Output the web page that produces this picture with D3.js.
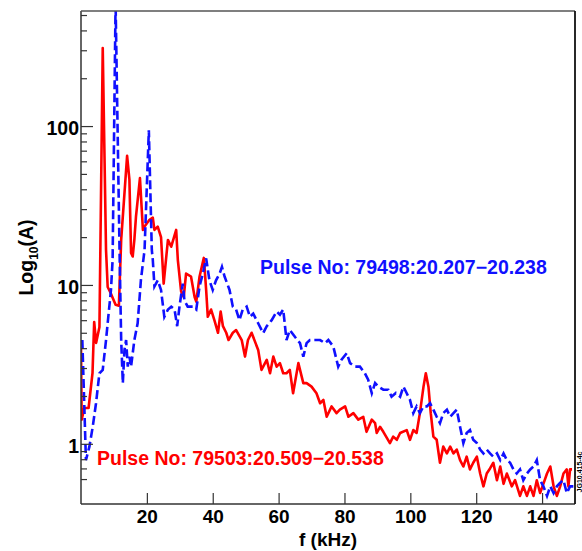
<!DOCTYPE html>
<html>
<head>
<meta charset="utf-8">
<script src="https://cdn.jsdelivr.net/npm/d3@7"></script>
<style>
  html, body { margin: 0; padding: 0; background: #fff; }
  svg { display: block; }
  text { font-family: "Liberation Sans", Arial, Helvetica, sans-serif; font-weight: bold; }
</style>
</head>
<body>
<div id="chart"></div>
<script>
// ---- data ----
const redF = [0,0.2,1.0,2.3,3.5,4.0,4.6,5.6,6.6,7.6,
  8.1,9.0,10.5,11.5,12.2,14.0,14.7,15.2,15.7,16.2,
  16.7,17.9,18.8,19.3,20.8,21.8,22.3,23.3,24.3,25.1,
  25.8,26.4,27.4,28.9,29.4,30.4,31.2,31.9,33.4,34.5,
  35.0,36.0,37.3,38.0,38.5,39.5,40.5,41.6,42.4,43.1,
  44.1,44.8,46.1,47.1,48.8,49.8,50.7,51.8,53.8,54.8,
  56.4,57.4,58.4,59.4,60.4,61.4,62.4,63.4,64.4,66.0,
  67.5,68.5,70.0,71.5,72.6,73.6,74.6,76.1,77.6,78.6,
  80.2,81.2,82.7,84.2,85.7,86.7,88.3,89.3,89.8,90.8,
  91.8,93.8,94.8,95.9,96.9,98.9,99.9,100.9,101.9,102.9,
  104.0,104.7,105.5,106.2,107.0,108.0,109.0,110.0,111.1,112.1,
  113.1,114.1,115.1,116.1,117.1,118.1,119.1,120.2,121.2,122.2,
  123.2,124.2,125.2,126.3,127.3,128.3,129.3,130.8,131.8,133.3,
  134.3,135.4,136.4,137.4,138.4,139.4,140.4,141.5,142.5,143.5,
  144.5,145.5,146.5,147.5,148.0,148.5,149.1];
const redA = [4.0,1.42,1.68,1.68,2.8,5.85,4.32,5.44,310,16.6,
  9.7,8.9,7.5,7.4,19.2,65,46,15.9,15.1,19.2,
  27,47,22.2,23.3,25.7,26.5,22.2,23.3,20,10.2,
  14.4,19.2,17.4,22.2,14.4,9.1,8.4,11.8,11.3,8.4,
  7.85,11.3,14.8,9.3,6.3,7.0,6.0,5.0,6.8,5.5,
  5.0,4.5,5.0,5.2,4.5,3.54,4.5,5.0,3.9,2.92,
  3.38,2.78,3.54,3.06,3.22,2.78,2.78,2.92,2.08,3.22,
  2.41,2.41,2.29,2.08,1.80,1.89,1.48,1.72,1.56,1.64,
  1.72,1.48,1.56,1.42,1.48,1.19,1.42,1.35,1.17,1.28,
  1.19,1.01,1.11,1.06,1.17,1.22,1.06,1.22,1.17,1.56,
  2.29,2.78,2.29,1.56,1.11,1.06,0.76,0.96,0.87,0.96,
  0.87,0.92,0.79,0.72,0.83,0.69,0.76,0.83,0.65,0.54,
  0.65,0.70,0.76,0.59,0.72,0.56,0.65,0.54,0.59,0.47,
  0.54,0.47,0.54,0.47,0.59,0.49,0.56,0.65,0.72,0.54,
  0.47,0.54,0.65,0.69,0.54,0.69,0.69];

const blueF = [0.4,1.5,2.55,3.56,4.56,5.59,6.6,7.6,8.1,9.1,
  9.6,10.5,11.7,12.2,12.7,13.2,13.7,14.2,14.7,15.2,
  16.2,17.2,18.2,19.3,20.6,21.5,21.8,22.3,23.3,24.3,
  25.3,26.4,27.4,28.4,29.2,29.9,30.9,31.4,32.4,34.0,
  35.0,36.0,37.0,38.0,39.0,40.0,41.0,42.1,42.8,43.6,
  45.1,46.1,47.1,48.1,49.1,50.3,51.3,52.3,53.8,55.3,
  56.4,57.9,59.4,60.4,61.4,62.4,63.4,65.0,66.5,67.5,
  68.5,69.5,71.0,72.6,74.1,75.1,76.6,78.1,79.1,80.7,
  81.7,83.2,84.7,86.2,87.2,88.3,89.3,90.3,91.8,93.3,
  94.3,95.6,96.9,97.9,98.9,99.9,100.9,101.9,102.9,104.0,
  105.0,106.0,107.0,108.0,109.0,110.0,111.1,112.1,113.1,114.1,
  115.1,116.1,117.1,118.1,119.1,120.2,121.2,122.2,123.2,124.2,
  125.2,126.3,127.3,128.3,129.3,130.3,131.3,132.3,133.3,134.3,
  135.4,136.4,137.4,138.4,139.4,140.4,141.5,142.5,143.5,144.5,
  145.5,146.5,147.5,148.5,149.5];
const blueA = [4.5,0.79,0.96,1.28,1.80,2.78,2.92,4.5,5.74,9.3,
  14.4,600,16.6,4.5,2.41,3.9,4.5,3.06,3.54,3.06,
  4.5,5.74,10.8,16.6,94,16.6,14.4,9.8,10.7,9.3,
  6.3,7.0,7.3,7.0,5.5,7.3,10.2,8.0,7.3,7.3,
  7.0,9.8,11.8,14.7,10.7,9.3,10.7,11.8,13.0,11.3,
  9.3,7.3,7.0,6.0,7.0,7.3,6.3,6.6,5.74,4.97,
  5.5,6.0,6.8,6.5,7.0,4.5,5.2,4.7,4.3,3.54,
  4.3,4.5,4.5,4.5,4.3,4.5,4.1,3.06,3.38,3.72,
  3.22,3.06,3.06,2.78,2.53,2.08,2.41,2.29,2.19,2.19,
  1.98,2.09,1.98,2.29,2.08,1.89,1.56,1.72,1.56,1.72,
  1.72,1.80,1.64,1.48,1.35,1.56,1.64,1.48,1.56,1.64,
  1.28,1.01,1.17,1.22,1.06,1.01,0.92,0.87,0.92,0.87,
  0.83,0.87,0.79,0.87,0.79,0.76,0.69,0.65,0.69,0.59,
  0.65,0.69,0.72,0.79,0.59,0.54,0.47,0.54,0.49,0.54,
  0.57,0.59,0.49,0.54,0.54];

const xTicks = [20, 40, 60, 80, 100, 120, 140];
const yMajor = [1, 10, 100];
const yMinor = [0.6,0.7,0.8,0.9, 2,3,4,5,6,7,8,9, 20,30,40,50,60,70,80,90, 200,300,400,500];
const blueLabel = "Pulse No: 79498:20.207\u221220.238";
const redLabel = "Pulse No: 79503:20.509\u221220.538";
const xTitle = "f (kHz)";
const sideNote = "JG10.415-4c";

// ---- layout ----
const W = 582, H = 551;
const L = 81, R = 575, T = 11, B = 504;

const svg = d3.select("#chart").append("svg").attr("width", W).attr("height", H);

const x = d3.scaleLinear().domain([0, 150]).range([L, R]);
const y = d3.scaleLog().domain([0.418, 530]).range([B, T]);

svg.append("defs").append("clipPath").attr("id", "clip")
  .append("rect").attr("x", L).attr("y", T).attr("width", R - L).attr("height", B - T);

// series
const line = d3.line().x(d => x(d[0])).y(d => y(d[1]));
const redData = redF.map((f, i) => [f, redA[i]]);
const blueData = blueF.map((f, i) => [f, blueA[i]]);

const plot = svg.append("g").attr("clip-path", "url(#clip)");
plot.append("path").datum(redData).attr("d", line)
  .attr("fill", "none").attr("stroke", "#ff0000").attr("stroke-width", 2.6)
  .attr("stroke-linejoin", "round");
plot.append("path").datum(blueData).attr("d", line)
  .attr("fill", "none").attr("stroke", "#1010ff").attr("stroke-width", 2.6)
  .attr("stroke-dasharray", "9,4");

// axes
const axisColor = "#333";
const gx = svg.append("g").attr("transform", `translate(0,${B})`)
  .call(d3.axisBottom(x).tickValues(xTicks).tickSize(-11).tickPadding(5.5).tickFormat(d3.format("d")));
gx.select(".domain").remove();
gx.selectAll("line").attr("stroke", axisColor).attr("stroke-width", 1.2);
gx.selectAll("text").attr("font-size", 19).attr("fill", "#000");

const gyMin = svg.append("g").attr("transform", `translate(${L},0)`)
  .call(d3.axisLeft(y).tickValues(yMinor).tickSize(-6).tickFormat(""));
gyMin.select(".domain").remove();
gyMin.selectAll("line").attr("stroke", axisColor).attr("stroke-width", 1.2);

const gy = svg.append("g").attr("transform", `translate(${L},0)`)
  .call(d3.axisLeft(y).tickValues(yMajor).tickSize(-12).tickPadding(2).tickFormat(d3.format("d")));
gy.select(".domain").remove();
gy.selectAll("line").attr("stroke", axisColor).attr("stroke-width", 1.2);
gy.selectAll("text").attr("font-size", 19.5).attr("fill", "#000").attr("dy", "0.42em");

// frame
svg.append("line").attr("x1", L).attr("x2", L).attr("y1", T).attr("y2", B)
  .attr("stroke", axisColor).attr("stroke-width", 1.5);
svg.append("line").attr("x1", L).attr("x2", R).attr("y1", B).attr("y2", B)
  .attr("stroke", axisColor).attr("stroke-width", 1.5);
svg.append("line").attr("x1", L).attr("x2", R).attr("y1", T).attr("y2", T)
  .attr("stroke", "#555").attr("stroke-width", 1.3);
svg.append("line").attr("x1", R).attr("x2", R).attr("y1", T).attr("y2", B)
  .attr("stroke", "#111").attr("stroke-width", 1.8);

// titles
svg.append("text").attr("x", (L + R) / 2).attr("y", 546)
  .attr("text-anchor", "middle").attr("font-size", 19).text(xTitle);

const yt = svg.append("text")
  .attr("transform", `translate(33,${(T + B) / 2}) rotate(-90)`)
  .attr("text-anchor", "middle").attr("font-size", 19.5);
yt.append("tspan").text("Log");
yt.append("tspan").attr("font-size", 12).attr("dy", 5).text("10");
yt.append("tspan").attr("dy", -5).text("(A)");

// labels
svg.append("text").attr("x", 260).attr("y", 273.5).attr("font-size", 19.5)
  .attr("fill", "#1010ff").text(blueLabel);
svg.append("text").attr("x", 97).attr("y", 465).attr("font-size", 19.5)
  .attr("fill", "#ff0000").text(redLabel);

// side note
svg.append("text").attr("transform", "translate(581.5,472) rotate(-90)")
  .attr("text-anchor", "middle").attr("font-size", 7).attr("font-weight", "normal")
  .attr("fill", "#000").text(sideNote);
</script>
</body>
</html>
